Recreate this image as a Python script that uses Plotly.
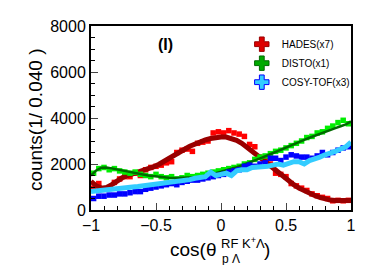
import numpy as np
import plotly.graph_objects as go

# ---- data ----
bin_centers = [round(-0.98 + 0.04 * i, 2) for i in range(50)]
curve_x = [round(-1.0 + 0.04 * i, 2) for i in range(51)]

hades_pts = [950, 1150, 900, 950, 1200, 1350, 1450, 1450, 1600, 1500,
             1750, 1850, 1900, 1950, 2050, 2100, 2500, 2600, 2650, 2550,
             2900, 2950, 3000, 3350, 3400, 3350, 3450, 3350, 3300, 3200,
             2850, 2750, 2300, 2150, 2000, 1600, 1550, 1450, 1150, 1050,
             950, 850, 700, 620, 550, 500, 400, 420, 400, 420]
hades_fit = [1250, 1050, 950, 980, 1100, 1260, 1400, 1500, 1570, 1620,
             1680, 1760, 1870, 1980, 2100, 2230, 2360, 2500, 2640, 2770,
             2880, 2970, 3050, 3110, 3150, 3170, 3170, 3120, 3030, 2900,
             2740, 2560, 2380, 2200, 2010, 1820, 1630, 1450, 1270, 1100,
             950, 830, 720, 630, 550, 480, 430, 410, 400, 400, 410]

disto_pts = [1600, 1800, 1850, 1750, 1800, 1700, 1650, 1600, 1650, 1550,
             1500, 1450, 1550, 1450, 1400, 1450, 1350, 1400, 1500, 1450,
             1500, 1550, 1600, 1650, 1700, 1750, 1800, 1850, 1900, 2000,
             2050, 2200, 2300, 2350, 2450, 2550, 2600, 2700, 2800, 2900,
             3000, 3150, 3200, 3350, 3400, 3550, 3650, 3800, 3900, 3750]
disto_fit = [1500, 1720, 1840, 1850, 1810, 1760, 1710, 1660, 1620, 1580,
             1540, 1500, 1470, 1440, 1420, 1400, 1390, 1390, 1390, 1400,
             1420, 1450, 1490, 1540, 1600, 1660, 1720, 1790, 1860, 1940,
             2020, 2110, 2200, 2290, 2380, 2480, 2580, 2680, 2780, 2870,
             2960, 3050, 3140, 3230, 3320, 3400, 3480, 3560, 3640, 3720, 3850]

cosy_pts = [500, 600, 600, 650, 650, 700, 700, 750, 800, 800,
            900, 950, 1000, 1050, 1100, 1150, 1100, 1200, 1250, 1300,
            1300, 1350, 1400, 1450, 1500, 1550, 1650, 1700, 1750, 1900,
            1950, 1900, 2000, 2050, 2250, 2250, 2150, 2300, 2400, 2350,
            2300, 2300, 2250, 2350, 2500, 2400, 2500, 2600, 2700, 2750]
cosy_fit = [800, 830, 870, 880, 900, 930, 950, 980, 1000, 1020,
            1050, 1060, 1080, 1100, 1150, 1200, 1220, 1250, 1300, 1320,
            1380, 1420, 1450, 1650, 1500, 1550, 1600, 1500, 1700, 1750,
            1750, 1850, 1850, 1900, 1900, 1950, 2000, 1950, 2050, 2100,
            2100, 2000, 2150, 2200, 2300, 2400, 2450, 2550, 2650, 2750, 2950]

labels = ["HADES(x7)", "DISTO(x1)", "COSY-TOF(x3)"]

FONT = "Liberation Sans, Arial, sans-serif"

fig = go.Figure()

# HADES
fig.add_trace(go.Scatter(x=bin_centers, y=hades_pts, mode="markers",
                         marker=dict(symbol="square", size=5.5, color="#ff0000"),
                         showlegend=False))
fig.add_trace(go.Scatter(x=curve_x, y=hades_fit, mode="lines",
                         line=dict(color="#9a0000", width=5), showlegend=False))
# DISTO
fig.add_trace(go.Scatter(x=bin_centers, y=disto_pts, mode="markers",
                         marker=dict(symbol="square", size=5.5, color="#00ee00"),
                         showlegend=False))
fig.add_trace(go.Scatter(x=curve_x, y=disto_fit, mode="lines",
                         line=dict(color="#006a00", width=2.5), showlegend=False))
# COSY-TOF
fig.add_trace(go.Scatter(x=bin_centers, y=cosy_pts, mode="markers",
                         marker=dict(symbol="square", size=5.5, color="#0000ff"),
                         showlegend=False))
fig.add_trace(go.Scatter(x=curve_x, y=cosy_fit, mode="lines",
                         line=dict(color="#33ccff", width=5), showlegend=False))

# legend entries
leg_styles = [("#dd0000", "#9a0000"), ("#00aa00", "#006a00"), ("#33ccff", "#0000ff")]
for lab, (c, lc) in zip(labels, leg_styles):
    fig.add_trace(go.Scatter(x=[None], y=[None], mode="markers", name=lab,
                             marker=dict(symbol="cross", size=12, color=c,
                                         line=dict(color=lc, width=1))))

fig.update_layout(
    width=369, height=265,
    margin=dict(l=91, r=18, t=26, b=55),
    paper_bgcolor="white", plot_bgcolor="white",
    font=dict(family=FONT, color="black", size=16),
    legend=dict(x=0.58, y=0.98, xanchor="left", yanchor="top",
                font=dict(size=10, family=FONT), bgcolor="rgba(0,0,0,0)",
                itemwidth=30),
    xaxis=dict(range=[-1, 1], dtick=0.5, tick0=-1, ticks="inside", ticklen=7,
               tickwidth=1, showline=True, linewidth=2, linecolor="black",
               mirror=True, showgrid=False, zeroline=False,
               tickfont=dict(size=16),
               minor=dict(dtick=0.1, ticks="inside", ticklen=4, tickcolor="black")),
    yaxis=dict(range=[0, 8000], dtick=2000, ticks="inside", ticklen=7,
               tickwidth=1, showline=True, linewidth=2, linecolor="black",
               mirror=True, showgrid=False, zeroline=False,
               tickfont=dict(size=16),
               minor=dict(dtick=500, ticks="inside", ticklen=4, tickcolor="black")),
)

ann = [
    dict(text="<b>(I)</b>", x=0.285, y=0.897, font=dict(size=16)),
    dict(text="counts(1/ 0.040 )", x=-0.215, y=0.489, textangle=-90,
         font=dict(size=19)),
    dict(text="cos(θ", x=(218 - 91) / 260, y=(210 - 249) / 184, xanchor="right",
         font=dict(size=19)),
    dict(text="RF K<sup>+</sup>Λ", x=(219 - 91) / 260, y=(210 - 243) / 184,
         xanchor="left", font=dict(size=13)),
    dict(text="p Λ", x=(220 - 91) / 260, y=(210 - 259) / 184, xanchor="left",
         font=dict(size=12)),
    dict(text=")", x=(262 - 91) / 260, y=(210 - 249) / 184, xanchor="left",
         font=dict(size=19)),
]
for a in ann:
    a.setdefault("xanchor", "center")
    fig.add_annotation(xref="paper", yref="paper", showarrow=False,
                       yanchor="middle", **a)

fig.write_html("out.html")
